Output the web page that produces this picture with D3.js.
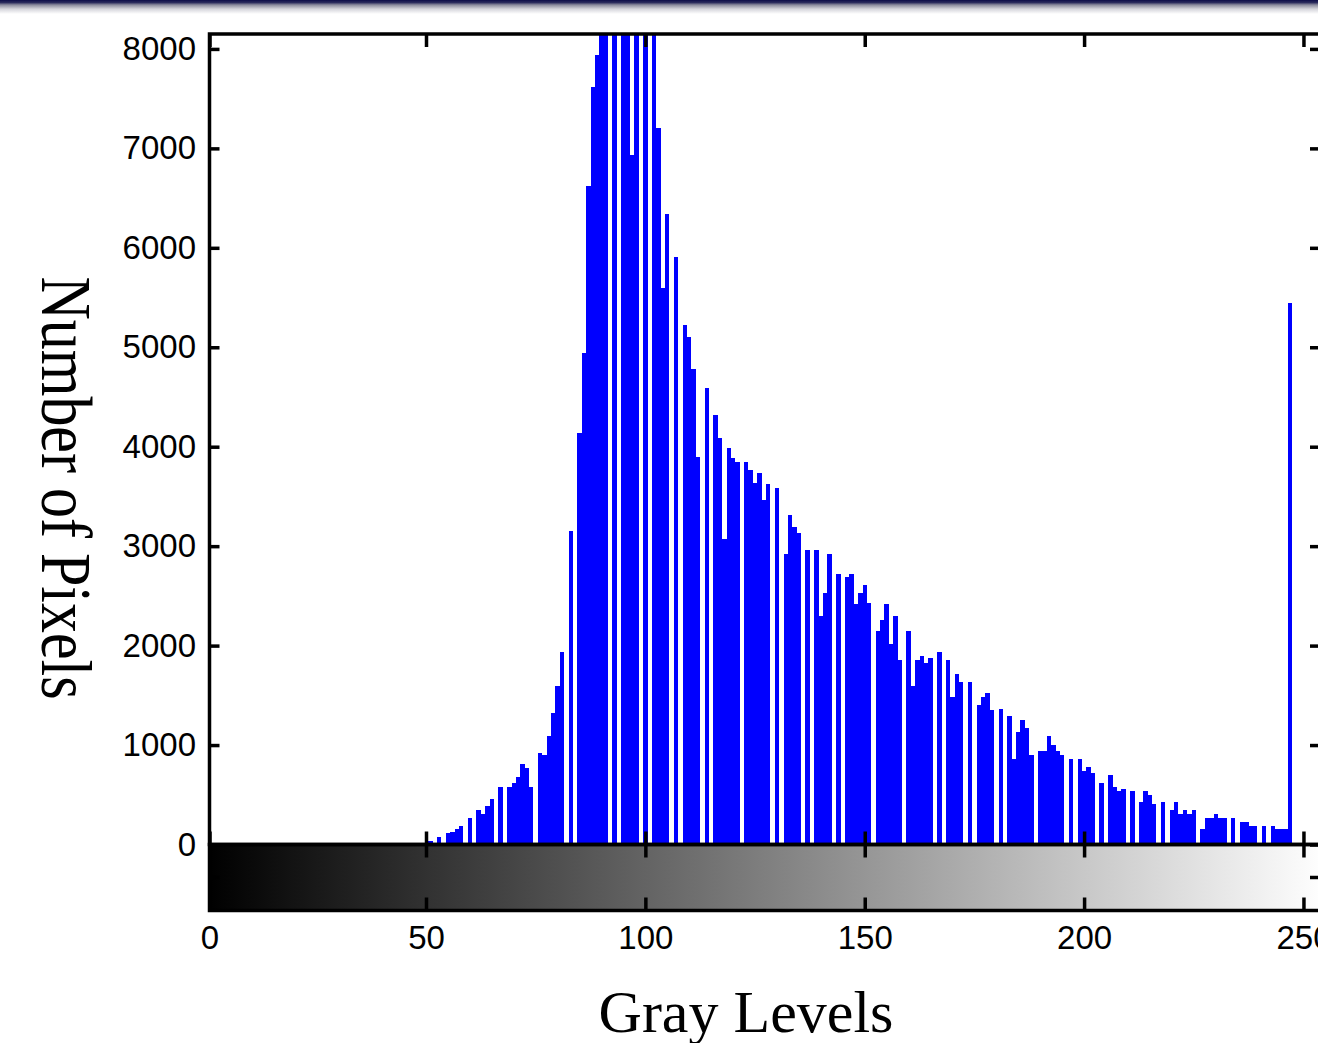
<!DOCTYPE html>
<html>
<head>
<meta charset="utf-8">
<script src="https://cdn.jsdelivr.net/npm/d3@7"></script>
<style>
  html, body { margin: 0; padding: 0; background: #fff; overflow: hidden; }
  svg { display: block; }
</style>
</head>
<body>
<svg id="chart" width="1318" height="1043"></svg>
<script>
// Histogram of gray levels (0-255): number of pixels per level
const grayLevels = d3.range(256);
const pixelCounts = [
  0, 0, 0, 0, 0, 0, 0, 0, 0, 0, 0, 0, 0, 0, 0, 0,
  0, 0, 0, 0, 0, 0, 0, 0, 0, 0, 0, 0, 0, 0, 0, 0,
  0, 0, 0, 0, 0, 0, 0, 0, 0, 0, 0, 0, 0, 0, 0, 0,
  0, 0, 0, 40, 0, 80, 0, 120, 125, 160, 190, 0, 270, 0, 350, 310,
  390, 460, 0, 580, 0, 580, 620, 680, 810, 770, 580, 0, 920, 900, 1090, 1320,
  1590, 1940, 0, 3150, 0, 4140, 4940, 6620, 7620, 7940, 8600, 8900, 0, 9000, 0, 8800,
  8700, 6930, 8500, 0, 8400, 0, 8200, 7200, 5600, 6340, 0, 5910, 0, 5220, 5100, 4780,
  3900, 0, 4590, 0, 4320, 4090, 3070, 3990, 3890, 3850, 0, 3850, 3770, 3640, 3740, 3460,
  3620, 0, 3580, 0, 2920, 3310, 3190, 3130, 0, 2960, 0, 2960, 2300, 2530, 2920, 0,
  2720, 0, 2690, 2720, 2420, 2530, 2610, 2430, 0, 2150, 2260, 2420, 2020, 2300, 1860, 0,
  2150, 1590, 1860, 1900, 1830, 1880, 0, 1940, 0, 1860, 1480, 1710, 1630, 0, 1630, 0,
  1400, 1480, 1520, 1350, 0, 1360, 0, 1290, 860, 1130, 1250, 1170, 900, 0, 940, 940,
  1090, 1000, 940, 900, 0, 860, 0, 860, 740, 780, 720, 0, 620, 0, 700, 580,
  540, 560, 0, 540, 0, 430, 540, 500, 410, 0, 430, 0, 350, 430, 310, 350,
  310, 350, 0, 160, 270, 270, 310, 270, 270, 0, 270, 0, 230, 230, 190, 190,
  0, 190, 0, 190, 160, 160, 160, 5450, 0, 0, 0, 0, 0, 0, 0, 0
];
const xTickValues = [0, 50, 100, 150, 200, 250];
const yTickValues = [0, 1000, 2000, 3000, 4000, 5000, 6000, 7000, 8000];
const xTitle = "Gray Levels";
const yTitle = "Number of Pixels";

const W = 1318, H = 1043;
const sansFont = "'Liberation Sans', Arial, sans-serif";
const serifFont = "'Liberation Serif', 'Times New Roman', serif";
const lineW = 3.5;

const svg = d3.select("#chart");

// Scales: gray level -> px, pixel count -> px
const x = d3.scaleLinear().domain([0, 50, 254]).range([209.5, 426, 1321]);
const y = d3.scaleLinear().domain([0, 8150]).range([844.5, 34]);

const plotLeft = x(0), plotRight = x(254);
const plotTop = y(8150), plotBottom = y(0);
const stripTop = plotBottom, stripBottom = 910.5;

const defs = svg.append("defs");

// Gray ramp shown under the histogram
const ramp = defs.append("linearGradient")
  .attr("id", "grayRamp")
  .attr("gradientUnits", "userSpaceOnUse")
  .attr("x1", x(0)).attr("x2", x(255)).attr("y1", 0).attr("y2", 0);
ramp.append("stop").attr("offset", 0).attr("stop-color", "#000");
ramp.append("stop").attr("offset", 1).attr("stop-color", "#fff");

// Window shadow along the top edge
const shade = defs.append("linearGradient")
  .attr("id", "topShade")
  .attr("x1", 0).attr("x2", 0).attr("y1", 0).attr("y2", 1);
[[0, "#0c0c48"], [0.18, "#2a2a5c"], [0.35, "#8a8a9c"], [0.65, "#d6d6dc"], [1, "#ffffff"]]
  .forEach(([o, c]) => shade.append("stop").attr("offset", o).attr("stop-color", c));

defs.append("clipPath").attr("id", "plotClip")
  .append("rect")
  .attr("x", plotLeft).attr("y", plotTop)
  .attr("width", plotRight - plotLeft).attr("height", plotBottom - plotTop);

svg.append("rect").attr("x", 0).attr("y", 0).attr("width", W).attr("height", 14)
  .attr("fill", "url(#topShade)");

// Gray ramp strip
svg.append("rect")
  .attr("x", plotLeft).attr("y", stripTop)
  .attr("width", plotRight - plotLeft).attr("height", stripBottom - stripTop)
  .attr("fill", "url(#grayRamp)");

// Histogram bars
svg.append("g").attr("clip-path", "url(#plotClip)")
  .selectAll("rect")
  .data(grayLevels.filter(g => pixelCounts[g] > 0))
  .join("rect")
  .attr("x", g => Math.round(x(g - 0.5)))
  .attr("width", g => Math.round(x(g + 0.5)) - Math.round(x(g - 0.5)))
  .attr("y", g => y(pixelCounts[g]))
  .attr("height", g => y(0) - y(pixelCounts[g]))
  .attr("fill", "#0000ff")
  .attr("shape-rendering", "crispEdges");

// Frames
const frame = svg.append("g").attr("fill", "none").attr("stroke", "#000").attr("stroke-width", lineW);
frame.append("rect").attr("x", plotLeft).attr("y", plotTop)
  .attr("width", plotRight - plotLeft).attr("height", plotBottom - plotTop);
frame.append("rect").attr("x", plotLeft).attr("y", stripTop)
  .attr("width", plotRight - plotLeft).attr("height", stripBottom - stripTop);

function styleAxis(g, withText) {
  g.select(".domain").remove();
  g.selectAll(".tick line").attr("stroke", "#000").attr("stroke-width", lineW);
  if (withText) {
    g.selectAll(".tick text")
      .attr("fill", "#000")
      .style("font-family", sansFont)
      .style("font-size", "33px");
  } else {
    g.selectAll(".tick text").remove();
  }
}

const plainNum = d3.format("d");

// Inward ticks on all sides of the histogram panel
svg.append("g").attr("transform", `translate(${plotLeft},0)`)
  .call(d3.axisLeft(y).tickValues(yTickValues).tickFormat(plainNum)
    .tickSizeInner(-10).tickSizeOuter(0).tickPadding(13.5))
  .call(g => styleAxis(g, true));
svg.append("g").attr("transform", `translate(${plotRight},0)`)
  .call(d3.axisRight(y).tickValues(yTickValues).tickSizeInner(-11).tickSizeOuter(0))
  .call(g => styleAxis(g, false));
svg.append("g").attr("transform", `translate(0,${plotTop})`)
  .call(d3.axisTop(x).tickValues(xTickValues).tickSizeInner(-13).tickSizeOuter(0))
  .call(g => styleAxis(g, false));
svg.append("g").attr("transform", `translate(0,${plotBottom})`)
  .call(d3.axisBottom(x).tickValues(xTickValues).tickSizeInner(-13).tickSizeOuter(0))
  .call(g => styleAxis(g, false));

// Ticks on the gray ramp strip, labels below it
svg.append("g").attr("transform", `translate(0,${stripTop})`)
  .call(d3.axisTop(x).tickValues(xTickValues).tickSizeInner(-13).tickSizeOuter(0))
  .call(g => styleAxis(g, false));
svg.append("g").attr("transform", `translate(0,${stripBottom})`)
  .call(d3.axisBottom(x).tickValues(xTickValues).tickFormat(plainNum)
    .tickSizeInner(-13).tickSizeOuter(0).tickPadding(15.5))
  .call(g => styleAxis(g, true));

const stripMid = (stripTop + stripBottom) / 2;
svg.append("g").attr("stroke", "#000").attr("stroke-width", lineW)
  .selectAll("line")
  .data([[plotLeft, plotLeft + 10], [plotRight, plotRight - 11]])
  .join("line")
  .attr("x1", d => d[0]).attr("x2", d => d[1])
  .attr("y1", stripMid).attr("y2", stripMid);

// Axis titles
svg.append("text")
  .attr("x", 746).attr("y", 1032)
  .attr("text-anchor", "middle")
  .style("font-family", serifFont)
  .style("font-size", "60px")
  .attr("fill", "#000")
  .text(xTitle);

svg.append("text")
  .attr("transform", "translate(42,488) rotate(90) scale(1,1.2)")
  .attr("text-anchor", "middle")
  .style("font-family", serifFont)
  .style("font-size", "60px")
  .attr("fill", "#000")
  .text(yTitle);
</script>
</body>
</html>
